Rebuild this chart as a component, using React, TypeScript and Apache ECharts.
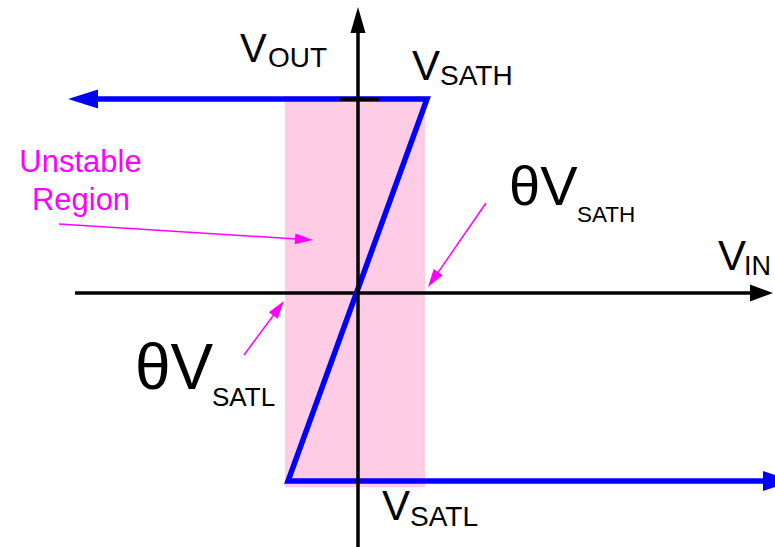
import React, { useEffect, useRef } from "react";
import * as echarts from "echarts";

// ---- data (in volts) ----
const X_RANGE = [-17.9, 20.85];
const Y_RANGE = [-12.7, 14.65];

const V_SAT_H = 9.7;
const V_SAT_L = -9.4;
const THETA_V_SAT_H = 3.45;
const THETA_V_SAT_L = -3.5;

// transfer characteristic: left arrow tip, upper threshold corner, lower threshold corner, right arrow tip
const transferX = [-14.5, THETA_V_SAT_H, THETA_V_SAT_L, 21.75];
const transferY = [V_SAT_H, V_SAT_H, V_SAT_L, V_SAT_L];

// unstable (hysteresis) region
const unstableX = [-3.65, 3.35];
const unstableY = [-9.7, 9.85];

// axes: [tail, tip]
const vinAxis = [[-14.15, 0], [20.75, 0]];
const voutAxis = [[0, -12.7], [0, 14.3]];

// tick mark at V_SATH on Vout axis
const satTickX = [-0.85, 0.95];

// callout arrows: [tail, tip]
const callouts = [
  [[-14.95, 3.45], [-2.25, 2.65]],
  [[6.4, 4.5], [3.5, 0.3]],
  [[-5.7, -3.1], [-3.7, -0.4]],
];

const FONT = "'Liberation Sans', Arial, sans-serif";
const BLUE = "#0000ff";
const MAGENTA = "#ff00ff";
const PINK = "#ffcce6";

const W = 775;
const H = 547;
const unitPx = W / (X_RANGE[1] - X_RANGE[0]);

function arrowHead(tail: number[], tip: number[], headLen: number) {
  const dx = tip[0] - tail[0];
  const dy = tip[1] - tail[1];
  const len = Math.hypot(dx, dy);
  const ux = dx / len;
  const uy = dy / len;
  const hl = headLen / unitPx;
  const center = [tip[0] - (ux * hl) / 2, tip[1] - (uy * hl) / 2];
  const rotate = (Math.atan2(dy, dx) * 180) / Math.PI - 90;
  return { center, rotate };
}

// text helper: baseline -> middle y for "central" baseline
function txt(text: string, x: number, baseline: number, fs: number, fill = "#000", align = "left") {
  return {
    type: "text",
    x,
    y: baseline - 0.3465 * fs,
    silent: true,
    z: 100,
    style: {
      text,
      fontSize: fs,
      fontFamily: FONT,
      fill,
      align,
      verticalAlign: "middle",
    },
  };
}

export default function App() {
  const ref = useRef<HTMLDivElement>(null);

  useEffect(() => {
    document.body.style.margin = "0";
    if (!ref.current) return;
    const chart = echarts.init(ref.current, undefined, { renderer: "svg" });

    const series: any[] = [];

    // unstable region
    series.push({
      type: "line",
      data: [],
      silent: true,
      z: 1,
      markArea: {
        silent: true,
        itemStyle: { color: PINK },
        data: [[{ coord: [unstableX[0], unstableY[1]] }, { coord: [unstableX[1], unstableY[0]] }]],
      },
    });

    const lineSeries = (pts: number[][], color: string, width: number, z: number, cap = "butt") => ({
      type: "line",
      data: pts,
      showSymbol: false,
      symbol: "none",
      silent: true,
      clip: false,
      z,
      lineStyle: { color, width, cap, join: "miter" },
    });

    const heads: Record<string, any[]> = { black: [], blue: [], magenta: [] };

    // Vin axis
    {
      const a = arrowHead(vinAxis[0], vinAxis[1], 23);
      series.push(lineSeries([vinAxis[0], a.center], "#000", 3.5, 3));
      heads.black.push({ value: a.center, symbolRotate: a.rotate, symbolSize: [17, 23] });
    }

    // transfer curve
    {
      const pts = transferX.map((x, i) => [x, transferY[i]]);
      const left = arrowHead(pts[1], pts[0], 30);
      const right = arrowHead(pts[2], pts[3], 30);
      const line = [left.center, pts[1], pts[2], right.center];
      series.push(lineSeries(line, BLUE, 5.5, 4));
      heads.blue.push({ value: left.center, symbolRotate: left.rotate, symbolSize: [19, 30] });
      heads.blue.push({ value: right.center, symbolRotate: right.rotate, symbolSize: [20, 30] });
    }

    // Vout axis
    {
      const a = arrowHead(voutAxis[0], voutAxis[1], 26);
      series.push(lineSeries([voutAxis[0], a.center], "#000", 3.5, 5));
      heads.black.push({ value: a.center, symbolRotate: a.rotate, symbolSize: [15, 26] });
    }

    // V_SATH tick
    series.push(lineSeries([[satTickX[0], V_SAT_H], [satTickX[1], V_SAT_H]], "#000", 4, 6, "round"));

    // callout arrows
    callouts.forEach(([tail, tip]) => {
      const a = arrowHead(tail, tip, 18);
      series.push(lineSeries([tail, a.center], MAGENTA, 1.5, 7));
      heads.magenta.push({ value: a.center, symbolRotate: a.rotate, symbolSize: [11, 18] });
    });

    const headColors: Record<string, string> = { black: "#000", blue: BLUE, magenta: MAGENTA };
    Object.keys(heads).forEach((k) => {
      series.push({
        type: "scatter",
        symbol: "triangle",
        silent: true,
        clip: false,
        z: 8,
        itemStyle: { color: headColors[k], opacity: 1 },
        data: heads[k],
      });
    });

    chart.setOption({
      animation: false,
      grid: { left: 0, right: 0, top: 0, bottom: 0, containLabel: false },
      xAxis: { type: "value", min: X_RANGE[0], max: X_RANGE[1], show: false },
      yAxis: { type: "value", min: Y_RANGE[0], max: Y_RANGE[1], show: false },
      series,
      graphic: {
        elements: [
          txt("V", 240, 62, 40),
          txt("OUT", 268, 67, 28),
          txt("V", 412, 80, 42),
          txt("SATH", 440, 85, 28),
          txt("θV", 509, 205, 56),
          txt("SATH", 577, 222, 22.5),
          txt("θV", 135, 389, 64),
          txt("SATL", 212, 406, 26),
          txt("V", 718, 270, 42),
          txt("IN", 744, 275, 27),
          txt("V", 382, 520, 42),
          txt("SATL", 410, 526, 28),
          txt("Unstable", 80.5, 172, 31, MAGENTA, "center"),
          txt("Region", 81, 210, 31, MAGENTA, "center"),
        ],
      },
    });

    return () => chart.dispose();
  }, []);

  return (
    <div
      ref={ref}
      style={{ width: W, height: H, position: "absolute", left: 0, top: 0, background: "#fff" }}
    />
  );
}
